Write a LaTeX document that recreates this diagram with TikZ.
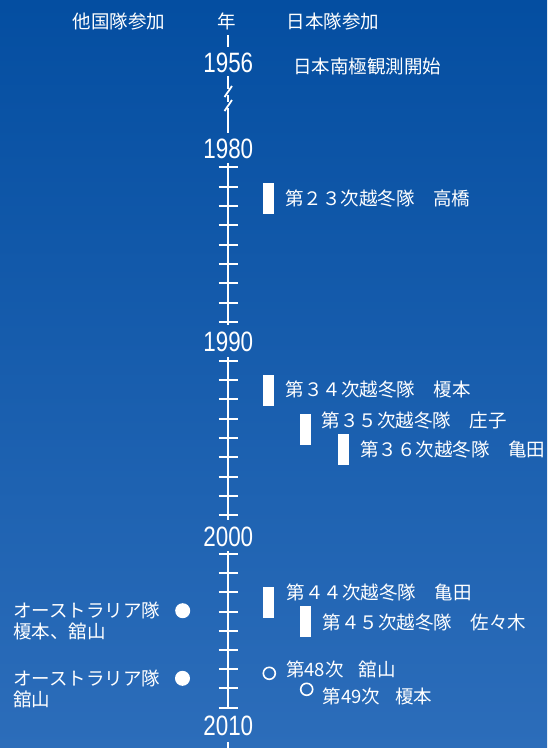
\documentclass[tikz,border=0pt]{standalone}
\usepackage{fontspec}
\setmainfont{Liberation Sans}
\newfontfamily\jp{Noto Sans CJK JP}
\newfontfamily\yrfont[FakeStretch=0.8]{Liberation Sans}
\definecolor{bgtop}{HTML}{044EA1}
\definecolor{bgmid}{HTML}{0753A6}
\definecolor{bgbot}{HTML}{2C6DBA}
\begin{document}
\begin{tikzpicture}[x=1pt,y=-1pt,
  jt/.style={text=white,font=\jp\fontsize{18.5}{22}\selectfont,inner sep=0pt,anchor=base west},
  hd/.style={text=white,font=\jp\fontsize{18.5}{22}\selectfont,inner sep=0pt,anchor=base},
  yl/.style={text=white,font=\yrfont\fontsize{28}{32}\selectfont,inner sep=0pt,anchor=base},
  ax/.style={draw=white,line width=2pt},
  tk/.style={draw=white,line width=2pt},
  barbox/.style={fill=white,draw=none,inner sep=0pt,minimum width=10.7pt,minimum height=31pt,rectangle},
  dotfull/.style={circle,fill=white,draw=none,inner sep=0pt,minimum size=15pt},
  dotopen/.style={circle,draw=white,line width=1.6pt,fill=none,inner sep=0pt,minimum size=12pt}]
\shade[top color=bgtop,middle color=bgmid,bottom color=bgbot] (0pt,0pt) rectangle (547pt,-748pt);
\useasboundingbox (0pt,0pt) rectangle (547pt,-748pt);

% headers
\node[hd] (hother) at (119,28.5) {他国隊参加};
\node[hd] (hyear) at (227,28.5) {年};
\node[hd] (hjapan) at (333,28.5) {日本隊参加};

% year labels
\node[yl] (y1956) at (228.3,72) {1956};
\node[yl] (y1980) at (228.3,158) {1980};
\node[yl] (y1990) at (228.3,351.5) {1990};
\node[yl] (y2000) at (228.3,546) {2000};
\node[yl] (y2010) at (228.3,735.5) {2010};

% axis
\coordinate (axtop) at (228.3,35);
\coordinate (axbot) at (228.3,748);
\coordinate (brkA) at (228.3,89);
\coordinate (brkB) at (228.3,95);
\coordinate (brkC) at (228.3,102);
\coordinate (brkD) at (228.3,108);
\draw[ax,shorten >=5pt] (axtop) -- (axtop |- y1956.north);
\draw[ax,shorten <=4pt] (y1956.south) -- (brkA);
\draw[ax] (brkB) -- (brkC);
\draw[ax,shorten >=5pt] (brkD) -- (brkD |- y1980.north);
\draw[white,line width=1.8pt] (224.5,97) -- (232,86);
\draw[white,line width=1.8pt] (224.5,111) -- (232,100);
\draw[ax,shorten <=5pt,shorten >=6.5pt] (y1980.south) -- (y1990.north);
\draw[ax,shorten <=5.5pt,shorten >=6.5pt] (y1990.south) -- (y2000.north);
\draw[ax,shorten <=5pt,shorten >=6.5pt] (y2000.south) -- (y2010.north);
\draw[ax,shorten <=6pt] (y2010.south) -- (axbot);

% ticks
\foreach \yy in {1,...,9}{
  \draw[tk] (218.5,{148+19.35*\yy}) -- (238,{148+19.35*\yy});
  \draw[tk] (218.5,{341.5+19.3*\yy}) -- (238,{341.5+19.3*\yy});
  \draw[tk] (218.5,{534.8+19.2*\yy}) -- (238,{534.8+19.2*\yy});
}

% Japan start
\node[jt] (start) at (293,73) {日本南極観測開始};

% wintering parties
\node[barbox] (b23) at (268.7,198.3) {};
\node[jt] (t23) at (285,205.3) {第２３次越冬隊　高橋};
\node[barbox] (b34) at (268.7,390.5) {};
\node[jt] (t34) at (285.7,396) {第３４次越冬隊　榎本};
\node[barbox] (b35) at (305.4,429.2) {};
\node[jt] (t35) at (321.7,427) {第３５次越冬隊　庄子};
\node[barbox] (b36) at (343.7,449.5) {};
\node[jt] (t36) at (360,456) {第３６次越冬隊　亀田};
\node[barbox] (b44) at (268.7,602.5) {};
\node[jt] (t44) at (286.7,599.7) {第４４次越冬隊　亀田};
\node[barbox] (b45) at (305.4,621.9) {};
\node[jt] (t45) at (322.7,629.7) {第４５次越冬隊　佐々木};

\node[dotopen] (c48) at (269.3,673.3) {};
\node[jt] (t48) at (286,676) {第48次\hspace{0.8em}舘山};
\node[dotopen] (c49) at (306.7,689.3) {};
\node[jt] (t49) at (322.7,703.7) {第49次\hspace{0.8em}榎本};

% other countries
\node[dotfull] (o1) at (182.7,610.7) {};
\node[jt] (o1a) at (13,617) {オーストラリア隊};
\node[jt] (o1b) at (13,638) {榎本、舘山};
\node[dotfull] (o2) at (182.5,678.3) {};
\node[jt] (o2a) at (13,685) {オーストラリア隊};
\node[jt] (o2b) at (13,706) {舘山};
\end{tikzpicture}
\end{document}
